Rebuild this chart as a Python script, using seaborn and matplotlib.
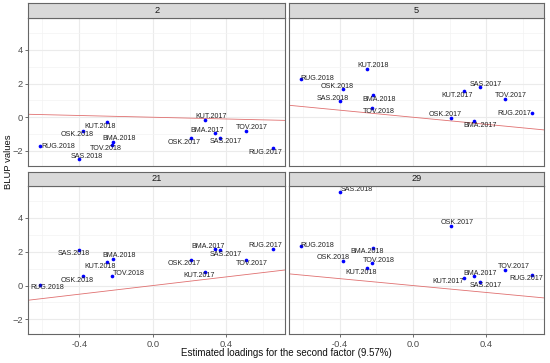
import matplotlib
matplotlib.use("Agg")
import matplotlib.pyplot as plt
import seaborn as sns
import pandas as pd

# ---- data ----
environments = ["RUG.2018", "SAS.2018", "OSK.2018", "KUT.2018", "BMA.2018", "TOV.2018",
                "OSK.2017", "KUT.2017", "BMA.2017", "SAS.2017", "TOV.2017", "RUG.2017"]
loadings = [-0.613, -0.400, -0.381, -0.252, -0.218, -0.222,
            0.208, 0.281, 0.335, 0.364, 0.504, 0.651]
genotypes = ["2", "5", "21", "29"]
blup_2 = [-1.71, -2.50, -0.79, -0.30, -1.49, -1.67, -1.25, -0.18, -0.95, -1.21, -0.81, -1.84]
blup_5 = [2.29, 0.95, 1.66, 2.89, 1.32, 0.55, -0.02, 1.58, -0.24, 1.78, 1.09, 0.24]
blup_21 = [0.04, 2.12, 0.54, 1.37, 1.57, 0.54, 1.53, 0.82, 2.14, 2.08, 1.53, 2.17]
blup_29 = [2.36, 5.50, 1.45, 1.01, 2.23, 1.33, 3.53, 0.46, 0.54, 0.22, 0.93, 0.65]
scores = [-0.26, -1.05, 1.28, -1.02]   # slope of fitted line per genotype
x_ticks = [-0.4, 0.0, 0.4]
x_tick_labels = ["-0.4", "0.0", "0.4"]
y_ticks = [-2, 0, 2, 4]

# label offsets (pixels, dx, dy up) per genotype panel
offsets = {
    "2": [(18, 0), (7, 3), (-6, -4), (-6, -4), (6, 4), (-6, -3),
          (-7, -4), (6, 4), (-7, 3), (6, -4), (6, 3), (-7, -4)],
    "5": [(17, 0), (-7, 3), (-6, 3), (6, 3), (6, -4), (6, -4),
          (-6, 3), (-7, -5), (6, -4), (6, 3), (6, 3), (-18, 0)],
    "21": [(7, -3), (-6, -4), (-6, -4), (-6, -4), (6, 3), (17, 3),
           (-7, -4), (-6, -4), (-6, 3), (6, -4), (6, -4), (-7, 3)],
    "29": [(17, 0), (17, 3), (-10, 3), (-6, -4), (-6, -4), (6, 3),
           (6, 3), (-16, -4), (6, 3), (6, -4), (9, 3), (-6, -4)],
}

blups = {"2": blup_2, "5": blup_5, "21": blup_21, "29": blup_29}
rows = []
for g in genotypes:
    for e, l, b in zip(environments, loadings, blups[g]):
        rows.append({"genotype": g, "env": e, "loading": l, "blup": b})
df = pd.DataFrame(rows)

sns.set_theme(style="white")
plt.rcParams["font.family"] = ["Liberation Sans", "DejaVu Sans"]

W, H = 550, 363
fig = plt.figure(figsize=(W / 100, H / 100), dpi=100)

panel_x = [(28.3, 285.0), (289.0, 544.3)]
panel_y = [(18.3, 165.7), (186.0, 334.3)]
strip_y = [(3.3, 18.3), (172.0, 186.0)]

def fr(x0, x1, y0, y1):
    return [x0 / W, 1 - y1 / H, (x1 - x0) / W, (y1 - y0) / H]

px2pt = 0.72
for i, g in enumerate(genotypes):
    r, c = divmod(i, 2)
    x0, x1 = panel_x[c]
    y0, y1 = panel_y[r]
    ax = fig.add_axes(fr(x0, x1, y0, y1))
    ax.set_xlim(-0.677, 0.718)
    ax.set_ylim(-2.88, 5.88)
    ax.set_xticks(x_ticks)
    ax.set_xticklabels(x_tick_labels)
    ax.set_yticks(y_ticks)
    ax.set_xticks([-0.6, -0.2, 0.2, 0.6], minor=True)
    ax.set_yticks([-1, 1, 3, 5], minor=True)
    ax.grid(True, which="major", color="#EBEBEB", lw=0.8, zorder=0)
    ax.grid(True, which="minor", color="#F3F3F3", lw=0.5, zorder=0)
    ax.set_axisbelow(True)
    for s in ax.spines.values():
        s.set_color("#666666")
        s.set_linewidth(0.8)
    ax.tick_params(which="major", length=2.5, width=0.6, color="#555555",
                   labelsize=6.7, labelcolor="#4D4D4D", pad=1.5)
    ax.tick_params(which="minor", length=0)
    if r == 0:
        ax.tick_params(labelbottom=False)
    if c == 1:
        ax.tick_params(labelleft=False)
    ax.tick_params(left=(c == 0), bottom=(r == 1))

    ax.axline((0, 0), slope=scores[i], color="#E07070", lw=0.6, zorder=1)
    sub = df[df["genotype"] == g]
    sns.scatterplot(data=sub, x="loading", y="blup", ax=ax, color="#0000FF",
                    s=7, linewidth=0, zorder=3, legend=False)
    for (e, l, b), (dx, dy) in zip(zip(sub["env"], sub["loading"], sub["blup"]), offsets[g]):
        ax.annotate(e, (l, b), xytext=(dx * px2pt, dy * px2pt), textcoords="offset points",
                    ha="center", va="center", fontsize=5.1, color="#222222", zorder=4)
    ax.set_xlabel("")
    ax.set_ylabel("")

    sy0, sy1 = strip_y[r]
    sax = fig.add_axes(fr(x0, x1, sy0, sy1))
    sax.set_facecolor("#D9D9D9")
    sax.set_xticks([])
    sax.set_yticks([])
    for s in sax.spines.values():
        s.set_color("#666666")
        s.set_linewidth(0.8)
    sax.text(0.5, 0.5, g, ha="center", va="center", fontsize=6.7, color="#1A1A1A",
             transform=sax.transAxes)

fig.text(286 / W, 1 - 353 / H, "Estimated loadings for the second factor (9.57%)",
         ha="center", va="center", fontsize=7.0, color="#111111")
fig.text(9 / W, 1 - 162 / H, "BLUP values", rotation=90,
         ha="center", va="center", fontsize=6.8, color="#111111")

fig.savefig("out.png", dpi=100)
